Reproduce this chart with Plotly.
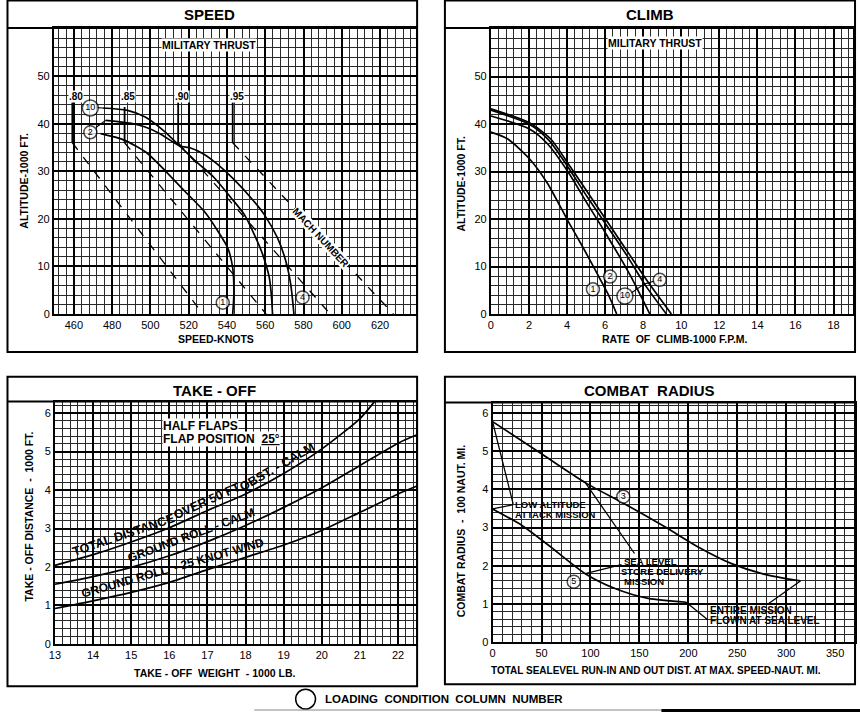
import plotly.graph_objects as go

W, H = 860, 718
FONT = "Liberation Sans"

# ---- SPEED panel: speed (knots) vs altitude (1000 ft), military thrust
speed_c1_kn = [474, 486, 498, 508, 518, 528.3, 535.3, 540.4, 543, 543.6, 543]
speed_c1_alt = [37.9, 36.6, 33.9, 30.0, 25.8, 21.5, 17.4, 13.9, 9.7, 4.2, 0]
speed_c10_kn = [475, 488, 497.3, 507, 515.4, 524, 533, 542.2, 549.1, 554.3, 558.6, 562.1, 563.3, 563.8]
speed_c10_alt = [43.3, 42.8, 41.4, 38.5, 35.3, 32.0, 28.8, 24.4, 20.9, 16.7, 12.6, 7.7, 3.5, 0]
speed_c4_kn = [476.6, 491, 497.3, 505, 515.4, 521, 528, 535, 543.1, 552.6, 559.5, 566.4, 570.7, 573.3, 575]
speed_c4_alt = [40.7, 40.0, 39.3, 37.9, 35.3, 34.9, 33.6, 31.5, 28.5, 24.4, 20.9, 16.0, 11.2, 6.3, 0]

# mach number lines: constant speed above ~36000 ft, then to sea level
mach_labels = [".80", ".85", ".90", ".95"]
mach_top_kn = [459.2, 486.5, 514.5, 543]
mach_sl_kn = [527.5, 560.5, 594, 627]
mach_top_alt = [44.5, 43.5, 44.5, 44.5]
mach_break_alt = 36

# ---- CLIMB panel: rate of climb (1000 fpm) vs altitude
climb_c1_roc = [0, 0.87, 2.0, 2.96, 4.09, 4.87, 5.57, 6.17, 6.61]
climb_c1_alt = [38.3, 36.9, 32.8, 27.6, 19.3, 13.8, 8.6, 4.1, 0]
climb_c2_roc = [0, 2.0, 2.96, 4.09, 5.04, 6.09, 7.3, 8.35]
climb_c2_alt = [41.7, 39.0, 35.9, 29.7, 23.4, 16.6, 8.3, 0]
climb_c10_roc = [0, 2.0, 3.04, 4.09, 5.04, 6.09, 7.13, 8.09, 9.22]
climb_c10_alt = [42.9, 40.0, 36.6, 30.7, 24.8, 18.6, 12.4, 6.2, 0]
climb_c4_roc = [0, 2.0, 3.13, 4.17, 5.22, 6.26, 7.3, 8.35, 9.48]
climb_c4_alt = [43.2, 40.3, 36.9, 31.0, 24.8, 18.6, 12.4, 6.2, 0]

# ---- TAKE-OFF panel: weight (1000 lb) vs distance (1000 ft)
to_weight = [13, 14, 15, 16, 17, 18, 19, 20, 21, 22, 22.48]
to_total = [2.04, 2.32, 2.65, 3.02, 3.47, 3.9, 4.43, 5.07, 5.86]
to_total_top = (21.38, 6.3)
to_roll_calm = [1.55, 1.75, 1.99, 2.29, 2.66, 3.08, 3.55, 4.06, 4.64, 5.22, 5.43]
to_roll_wind = [0.92, 1.12, 1.34, 1.6, 1.93, 2.25, 2.57, 2.95, 3.42, 3.9, 4.1]

# ---- COMBAT RADIUS panel: sea level run distance (naut mi) vs radius (100 naut mi)
cr_upper_dist = [0, 48, 94.7, 135, 176, 210, 243.5, 277, 314.5]
cr_upper_rad = [5.78, 4.97, 4.18, 3.62, 3.02, 2.49, 2.06, 1.78, 1.6]
cr_lower_dist = [0, 30.4, 57.5, 94.7, 125.1, 159, 197.8]
cr_lower_rad = [3.49, 3.05, 2.53, 1.79, 1.4, 1.14, 1.04]
cr_leaders = [
    ([0, 21], [5.78, 3.62]),
    ([0, 21], [3.49, 3.6]),
    ([94.7, 145], [4.18, 2.32]),
    ([94.7, 131.7], [1.79, 2.03]),
    ([314.5, 280.7], [1.6, 0.98]),
    ([197.8, 219.8], [1.04, 0.58]),
]


def px(x):
    return x / W


def py(y):
    return 1 - y / H


fig = go.Figure()


def line(xs, ys, n, width=1.7, dash="solid", smooth=True):
    fig.add_trace(go.Scatter(
        x=xs, y=ys, xaxis="x" + n, yaxis="y" + n, mode="lines",
        line=dict(color="black", width=width, dash=dash,
                  shape="spline" if smooth else "linear", smoothing=0.7),
        hoverinfo="skip",
    ))


def circled(xs, ys, labels, n):
    fig.add_trace(go.Scatter(
        x=xs, y=ys, xaxis="x" + n, yaxis="y" + n, mode="markers+text",
        text=labels, textposition="middle center",
        textfont=dict(family=FONT, size=9, color="black"),
        marker=dict(symbol="circle", color="white",
                    size=[16 if len(t) > 1 else 13 for t in labels],
                    line=dict(color="black", width=1.5)),
        hoverinfo="skip",
    ))


# speed
for mk_lbl, top, sl, ta in zip(mach_labels, mach_top_kn, mach_sl_kn, mach_top_alt):
    line([top, top], [ta, mach_break_alt], "", width=1.8, smooth=False)
    line([top, sl], [mach_break_alt, 0], "", width=1.3, dash="dash", smooth=False)
line(speed_c1_kn, speed_c1_alt, "")
line(speed_c10_kn, speed_c10_alt, "")
line(speed_c4_kn, speed_c4_alt, "")
line([471.5, 475], [43.4, 43.3], "", width=1.2, smooth=False)
line([471.5, 476.6], [39.2, 40.7], "", width=1.2, smooth=False)
circled([468.6, 468.6, 537.8, 579.5], [43.3, 38.2, 2.4, 3.5], ["10", "2", "1", "4"], "")

# climb
line(climb_c1_roc, climb_c1_alt, "2")
line(climb_c2_roc, climb_c2_alt, "2")
line(climb_c10_roc, climb_c10_alt, "2")
line(climb_c4_roc, climb_c4_alt, "2")
line([7.39, 8.05], [4.5, 6.3], "2", width=1.2, smooth=False)
line([8.55, 8.05], [6.9, 6.3], "2", width=1.2, smooth=False)
circled([5.36, 6.26, 7.04, 8.87], [5.2, 7.9, 3.8, 7.2], ["1", "2", "10", "4"], "2")

# take-off
line(to_weight[:9] + [to_total_top[0]], to_total + [to_total_top[1]], "3")
line(to_weight, to_roll_calm, "3")
line(to_weight, to_roll_wind, "3")

# combat radius
line(cr_upper_dist, cr_upper_rad, "4")
line(cr_lower_dist, cr_lower_rad, "4")
for lx, ly in cr_leaders:
    line(lx, ly, "4", width=1.3, smooth=False)
circled([133.5, 82.9], [3.81, 1.58], ["3", "5"], "4")


def axis(dom, rng, majors, minor_step, anchor, labels=None):
    return dict(
        domain=dom, range=rng, anchor=anchor,
        tickmode="array", tickvals=majors,
        ticktext=labels if labels else [str(v) for v in majors],
        showgrid=True, gridcolor="black", gridwidth=2,
        minor=dict(dtick=minor_step, tick0=0, showgrid=True,
                   gridcolor="#2a2a2a", gridwidth=1),
        showline=True, mirror=True, linecolor="black", linewidth=2,
        zeroline=False, ticks="", fixedrange=True,
        tickfont=dict(family=FONT, size=11, color="black"),
    )


# plot areas in pixels: left, right, top, bottom
p1 = (48.3, 413.3, 28.3, 316.7)
p2 = (488.3, 853.3, 28.3, 316.7)
p3 = (49.3, 413.3, 405, 649.3)
p4 = (490, 855, 406, 647.3)


def xdom(p):
    return [px(p[0]), px(p[1])]


def ydom(p):
    return [py(p[3]), py(p[2])]


layout = dict(
    width=W, height=H, margin=dict(l=0, r=0, t=0, b=0),
    paper_bgcolor="white", plot_bgcolor="white", showlegend=False,
    font=dict(family=FONT, color="black"),
    xaxis=axis(xdom(p1), [449.6, 639], list(range(460, 621, 20)), 4, "y"),
    yaxis=axis(ydom(p1), [0, 60.1], list(range(0, 51, 10)), 2, "x"),
    xaxis2=axis(xdom(p2), [0, 19.04], list(range(0, 19, 2)), 0.4, "y2"),
    yaxis2=axis(ydom(p2), [0, 60.2], list(range(0, 51, 10)), 2, "x2"),
    xaxis3=axis(xdom(p3), [13, 22.48], list(range(13, 23)), 0.2, "y3"),
    yaxis3=axis(ydom(p3), [0, 6.3], list(range(0, 7)), 0.2, "x3"),
    xaxis4=axis(xdom(p4), [0, 370.3], list(range(0, 351, 50)), 10, "y4"),
    yaxis4=axis(ydom(p4), [0, 6.28], list(range(0, 7)), 0.2, "x4"),
)

shapes = []
# panel frames and title bars
boxes = [(1.5, 414, 0.5, 355, 28.3), (442, 855, 0.5, 355, 28.3),
         (1.5, 414, 380, 692, 405), (442, 855, 380, 690, 406)]
for x0, x1, y0, y1, ybar in boxes:
    shapes.append(dict(type="rect", xref="paper", yref="paper", x0=px(x0), x1=px(x1),
                       y0=py(y1), y1=py(y0), line=dict(color="black", width=2)))
    shapes.append(dict(type="line", xref="paper", yref="paper", x0=px(x0), x1=px(x1),
                       y0=py(ybar), y1=py(ybar), line=dict(color="black", width=2)))
# legend circle and bottom rule
shapes.append(dict(type="circle", xref="paper", yref="paper", x0=px(291.7), x1=px(311.7),
                   y0=py(715), y1=py(695), line=dict(color="black", width=1.5)))
shapes.append(dict(type="line", xref="paper", yref="paper", x0=px(250), x1=px(660),
                   y0=py(716), y1=py(716), line=dict(color="#888", width=1)))
shapes.append(dict(type="line", xref="paper", yref="paper", x0=px(660), x1=px(860),
                   y0=py(716.5), y1=py(716.5), line=dict(color="black", width=3)))
layout["shapes"] = shapes

ann = []


def note(text, x, y, size=10, n=None, angle=0, bg=None, xanchor="center"):
    d = dict(text=text, x=x, y=y, showarrow=False, textangle=angle, xanchor=xanchor,
             yanchor="middle", font=dict(family=FONT, size=size, color="black"), borderpad=0)
    if n is None:
        d.update(xref="paper", yref="paper", x=px(x), y=py(y))
    else:
        d.update(xref="x" + n, yref="y" + n)
    if bg:
        d["bgcolor"] = bg
    ann.append(d)


# titles
note("<b>SPEED</b>", 205, 15, 15)
note("<b>CLIMB</b>", 648.3, 15, 15)
note("<b>TAKE - OFF</b>", 210, 393.3, 15)
note("<b>COMBAT  RADIUS</b>", 648.3, 393.3, 15)

# axis titles
note("<b>SPEED-KNOTS</b>", 211.7, 341.7, 10.5)
note("<b>ALTITUDE-1000 FT.</b>", 18.3, 182, 10.5, angle=-90)
note("<b>RATE  OF  CLIMB-1000 F.P.M.</b>", 673.3, 341.7, 10.5)
note("<b>ALTITUDE-1000 FT.</b>", 458.3, 185, 10.5, angle=-90)
note("<b>TAKE - OFF  WEIGHT  - 1000 LB.</b>", 210, 678.3, 10.5)
note("<b>TAKE - OFF DISTANCE  -  1000 FT.</b>", 23.3, 520.8, 10.5, angle=-90)
note("<b>TOTAL SEALEVEL RUN-IN AND OUT DIST. AT MAX. SPEED-NAUT. MI.</b>", 655, 676, 10)
note("<b>COMBAT RADIUS  -  100 NAUT. MI.</b>", 458.3, 535.7, 10.5, angle=-90)

# in-plot notes
note("<b>MILITARY THRUST</b>", 530.4, 56.6, 10.5, n="", bg="white")
for mk_lbl, top in zip(mach_labels, mach_top_kn):
    note("<b>" + mk_lbl + "</b>", top + 2, 45.7, 10, n="", bg="white")
note("<b>MACH NUMBER</b>", 588.9, 16, 10, n="", angle=47, bg="white")
note("<b>MILITARY THRUST</b>", 8.64, 57.1, 10.5, n="2", bg="white")

note("<b>HALF FLAPS</b>", 15.8, 5.66, 12, n="3", xanchor="left", bg="white")
note("<b>FLAP POSITION  <u>25°</u></b>", 15.8, 5.32, 12, n="3", xanchor="left", bg="white")
# hand lettering follows the curves, so the long label is set in three pieces
note("<b>TOTAL DISTANCE</b>", 14.8, 2.84, 12.5, n="3", angle=-18.8)
note("<b>OVER 50 FT</b>", 16.99, 3.72, 12.5, n="3", angle=-24.3)
note("<b>OBST. - CALM</b>", 18.83, 4.6, 12.5, n="3", angle=-30)
note("<b>GROUND ROLL - CALM</b>", 16.58, 2.83, 12, n="3", angle=-20.4)
note("<b>GROUND ROLL  - 25 KNOT WIND</b>", 16.08, 1.98, 12, n="3", angle=-15.9)

note("<b>LOW ALTITUDE</b>", 22, 3.61, 9.5, n="4", xanchor="left")
note("<b>ATTACK MISSION</b>", 22, 3.34, 9.5, n="4", xanchor="left")
note("<b>SEA LEVEL</b>", 133, 2.12, 9.5, n="4", xanchor="left")
note("<b>STORE DELIVERY</b>", 130, 1.85, 9.5, n="4", xanchor="left")
note("<b>MISSION</b>", 133, 1.58, 9.5, n="4", xanchor="left")
note("<b>ENTIRE MISSION</b>", 221.5, 0.82, 10, n="4", xanchor="left")
note("<b>FLOWN AT SEA LEVEL</b>", 221.5, 0.55, 10, n="4", xanchor="left")

# legend
note("<b>LOADING  CONDITION  COLUMN  NUMBER</b>", 320, 705, 11.5, xanchor="left")

layout["annotations"] = ann
fig.update_layout(**layout)
fig.write_html("out.html", config={"displayModeBar": False},
               post_script="document.body.style.margin='0px';document.body.style.overflow='hidden';")
